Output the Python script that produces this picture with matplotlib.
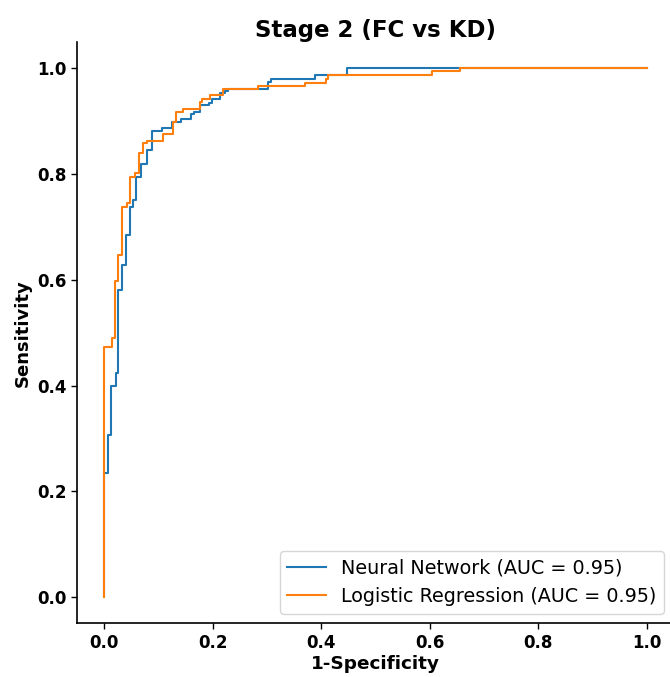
import matplotlib
matplotlib.use("Agg")
import matplotlib.pyplot as plt

# ROC corner points (step curves)
nn_fpr = [0.0, 0.0, 0.0065, 0.0135, 0.022, 0.026, 0.033, 0.040, 0.047, 0.054, 0.059,
          0.068, 0.079, 0.088, 0.107, 0.125, 0.141, 0.161, 0.166, 0.176, 0.194, 0.199,
          0.214, 0.223, 0.229, 0.303, 0.307, 0.389, 0.447, 1.0]
nn_tpr = [0.0, 0.234, 0.306, 0.400, 0.424, 0.581, 0.628, 0.685, 0.738, 0.751, 0.794,
          0.819, 0.846, 0.881, 0.887, 0.899, 0.905, 0.913, 0.918, 0.930, 0.935, 0.942,
          0.954, 0.958, 0.961, 0.975, 0.979, 0.987, 1.0, 1.0]

lr_fpr = [0.0, 0.0, 0.014, 0.020, 0.026, 0.033, 0.042, 0.047, 0.057, 0.065, 0.072,
          0.079, 0.108, 0.128, 0.133, 0.146, 0.176, 0.180, 0.195, 0.220, 0.284, 0.370,
          0.409, 0.413, 0.604, 0.656, 1.0]
lr_tpr = [0.0, 0.473, 0.489, 0.598, 0.647, 0.738, 0.745, 0.795, 0.802, 0.840, 0.858,
          0.863, 0.875, 0.899, 0.917, 0.923, 0.936, 0.942, 0.949, 0.960, 0.967, 0.972,
          0.979, 0.987, 0.995, 1.0, 1.0]

labels = ["Neural Network (AUC = 0.95)", "Logistic Regression (AUC = 0.95)"]
title = "Stage 2 (FC vs KD)"
xlabel = "1-Specificity"
ylabel = "Sensitivity"
ticks = [0.0, 0.2, 0.4, 0.6, 0.8, 1.0]

fig = plt.figure(figsize=(6.7, 6.77), dpi=100)
ax = fig.add_axes([0.1148, 0.0792, 0.8907, 0.8589])

ax.plot(nn_fpr, nn_tpr, drawstyle="steps-post", color="#1f77b4", lw=1.5, label=labels[0])
ax.plot(lr_fpr, lr_tpr, drawstyle="steps-post", color="#ff7f0e", lw=1.5, label=labels[1])

ax.set_xlim(-0.05, 1.05)
ax.set_ylim(-0.05, 1.05)
ax.set_xticks(ticks)
ax.set_yticks(ticks)
ax.set_xticklabels([f"{t:.1f}" for t in ticks], fontsize=12, fontweight="bold")
ax.set_yticklabels([f"{t:.1f}" for t in ticks], fontsize=12, fontweight="bold")
ax.spines["top"].set_visible(False)
ax.spines["right"].set_visible(False)
ax.spines["left"].set_linewidth(1.2)
ax.spines["bottom"].set_linewidth(1.2)
ax.tick_params(width=1.0, length=4)

ax.set_title(title, fontsize=16.5, fontweight="bold", pad=-3)
ax.set_xlabel(xlabel, fontsize=13.3, fontweight="bold", labelpad=2)
ax.set_ylabel(ylabel, fontsize=13, fontweight="bold", labelpad=4)

ax.legend(loc="lower right", fontsize=13.8, handlelength=2.0)

fig.savefig("out.png", dpi=100)
